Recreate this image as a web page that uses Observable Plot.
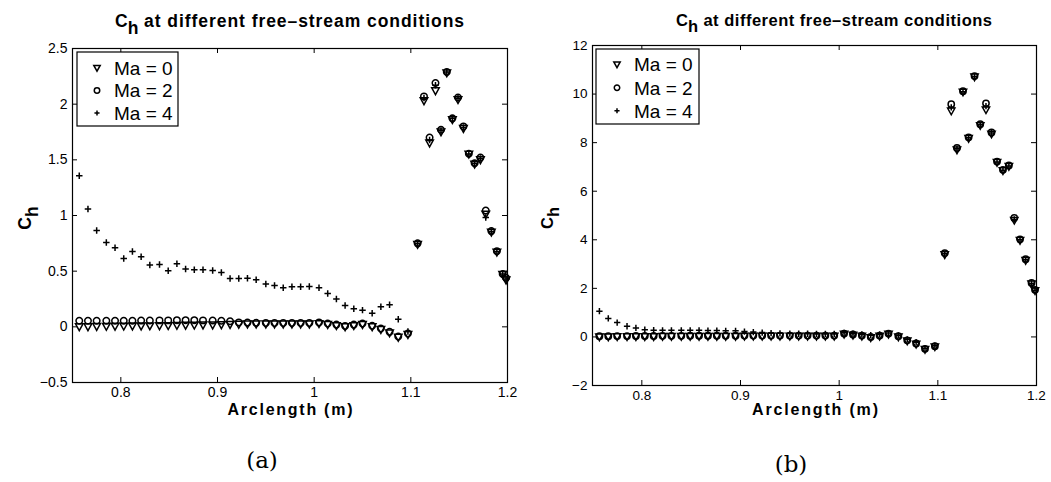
<!DOCTYPE html>
<html><head><meta charset="utf-8">
<script src="https://cdn.jsdelivr.net/npm/d3@7"></script>
<script src="https://cdn.jsdelivr.net/npm/@observablehq/plot@0.6"></script>
<style>
body{margin:0;background:#fff;}
#root{position:relative;width:1051px;height:482px;overflow:hidden;background:#fff;}
.panel{position:absolute;top:0;}
#overlay{position:absolute;left:0;top:0;pointer-events:none;}
</style></head><body><div id="root"></div>
<script>
// ---------------- data ----------------
const seriesLabels = ["Ma = 0", "Ma = 2", "Ma = 4"];
const arclength = [
  0.757, 0.766, 0.775, 0.785, 0.794, 0.803, 0.812, 0.821, 0.830, 0.840,
  0.849, 0.858, 0.867, 0.876, 0.885, 0.895, 0.904, 0.913, 0.922, 0.931,
  0.940, 0.950, 0.959, 0.968, 0.977, 0.986, 0.995, 1.005, 1.014, 1.023,
  1.032, 1.041, 1.050, 1.060, 1.069, 1.078, 1.087, 1.097,
  1.107, 1.1136, 1.1194, 1.1255, 1.1312, 1.1372, 1.143, 1.1488, 1.1544,
  1.160, 1.166, 1.172, 1.1775, 1.1833, 1.189, 1.195, 1.1985
];
// panel (a)
const chA_ma0 = [
  0.0, 0.0, 0.002, 0.003, 0.004, 0.005, 0.006, 0.007, 0.008, 0.009,
  0.01, 0.012, 0.013, 0.014, 0.015, 0.016, 0.018, 0.02, 0.022, 0.024,
  0.024, 0.024, 0.024, 0.024, 0.024, 0.024, 0.024, 0.028, 0.02, 0.01,
  0.0, 0.01, 0.02, 0.0, -0.025, -0.055, -0.095, -0.07,
  0.74, 2.03, 1.65, 2.12, 1.75, 2.28, 1.86, 2.04, 1.78, 1.55, 1.46, 1.50, 1.01, 0.85, 0.67, 0.47, 0.42
];
const chA_ma2 = [
  0.055, 0.055, 0.055, 0.055, 0.055, 0.055, 0.055, 0.056, 0.057, 0.058,
  0.058, 0.06, 0.06, 0.06, 0.058, 0.057, 0.055, 0.05, 0.04, 0.038,
  0.036, 0.035, 0.035, 0.035, 0.035, 0.035, 0.035, 0.04, 0.03, 0.02,
  0.008, 0.02, 0.03, 0.01, -0.015, -0.045, -0.087, -0.06,
  0.75, 2.07, 1.70, 2.19, 1.77, 2.29, 1.873, 2.06, 1.80, 1.555, 1.47, 1.52, 1.045, 0.86, 0.68, 0.475, 0.44
];
const chA_ma4 = [
  1.358, 1.058, 0.866, 0.758, 0.71, 0.614, 0.677, 0.63, 0.555, 0.56,
  0.504, 0.567, 0.519, 0.512, 0.512, 0.506, 0.488, 0.434, 0.434, 0.437,
  0.423, 0.384, 0.371, 0.351, 0.36, 0.36, 0.362, 0.351, 0.3, 0.249,
  0.192, 0.162, 0.15, 0.123, 0.18, 0.198, 0.069, -0.042,
  0.749, 2.056, 1.679, 2.17, 1.763, 2.29, 1.873, 2.053, 1.79, 1.553, 1.469, 1.513, 0.983, 0.857, 0.677, 0.474, 0.43
];
// panel (b)
const chB_ma0 = [
  0.0, 0.0, 0.005, 0.005, 0.01, 0.01, 0.01, 0.015, 0.015, 0.015,
  0.02, 0.02, 0.02, 0.02, 0.02, 0.02, 0.025, 0.025, 0.025, 0.025,
  0.025, 0.025, 0.025, 0.025, 0.025, 0.025, 0.025, 0.11, 0.07, 0.025,
  -0.03, 0.025, 0.11, 0.0, -0.17, -0.3, -0.52, -0.41,
  3.38, 9.3, 7.7, 10.08, 8.17, 10.7, 8.7, 9.35, 8.35, 7.18, 6.84, 7.02, 4.8, 3.97, 3.15, 2.18, 1.9
];
const chB_ma2 = [
  0.03, 0.03, 0.035, 0.035, 0.04, 0.04, 0.04, 0.045, 0.045, 0.045,
  0.05, 0.05, 0.05, 0.05, 0.05, 0.05, 0.055, 0.055, 0.055, 0.055,
  0.055, 0.055, 0.055, 0.055, 0.055, 0.055, 0.055, 0.14, 0.1, 0.055,
  0.0, 0.055, 0.14, 0.03, -0.14, -0.27, -0.49, -0.38,
  3.45, 9.58, 7.78, 10.12, 8.22, 10.74, 8.76, 9.62, 8.42, 7.22, 6.88, 7.06, 4.9, 4.02, 3.2, 2.22, 1.94
];
const chB_ma4 = [
  1.06, 0.76, 0.59, 0.44, 0.37, 0.30, 0.28, 0.27, 0.27, 0.27,
  0.27, 0.27, 0.26, 0.26, 0.25, 0.25, 0.22, 0.2, 0.18, 0.16,
  0.15, 0.14, 0.13, 0.13, 0.12, 0.12, 0.12, 0.17, 0.13, 0.1,
  0.07, 0.1, 0.16, 0.06, -0.1, -0.22, -0.47, -0.36,
  3.43, 9.45, 7.75, 10.1, 8.2, 10.72, 8.74, 9.5, 8.4, 7.2, 6.86, 7.04, 4.84, 4.0, 3.18, 2.2, 1.92
];
const xTicks = [0.8, 0.9, 1, 1.1, 1.2];
const yTicksA = [-0.5, 0, 0.5, 1, 1.5, 2, 2.5];
const yTicksB = [-2, 0, 2, 4, 6, 8, 10, 12];
const titleText = "at different free\u2013stream conditions";
const xLabelText = "Arclength (m)";

// ---------------- symbols ----------------
const triDown = {draw(ctx, size){ const r = Math.sqrt(size/Math.PI); ctx.moveTo(-r*1.05, -r*0.85); ctx.lineTo(r*1.05, -r*0.85); ctx.lineTo(0, r*1.05); ctx.closePath(); }};
const ring = {draw(ctx, size){ const r = Math.sqrt(size/Math.PI)*0.9; ctx.moveTo(r, 0); ctx.arc(0, 0, r, 0, 2*Math.PI); }};
const plusS = {draw(ctx, size){ const r = Math.sqrt(size/Math.PI)*0.9; ctx.moveTo(-r, 0); ctx.lineTo(r, 0); ctx.moveTo(0, -r); ctx.lineTo(0, r); }};

const fmt = d => d < 0 ? "\u2212" + Math.abs(d) : String(d);
const FONT = "'Liberation Sans', Arial, Helvetica, sans-serif";

function makePanel(cfg){
  const {series, yDomain, yTicks, width, height, mL, mR, mT, mB, fs, r} = cfg;
  const fw = width - mL - mR, fh = height - mT - mB;
  const syms = [triDown, ring, plusS];
  const dotMarks = series.map((vals, k) => Plot.dot(
    arclength.map((x, i) => ({x, y: vals[i]})),
    {x: "x", y: "y", symbol: syms[k], r, fill: "none", stroke: "black", strokeWidth: 1.5}
  ));
  return Plot.plot({
    width, height, marginLeft: mL, marginRight: mR, marginTop: mT, marginBottom: mB,
    style: {fontFamily: FONT, fontSize: fs + "px", color: "black", background: "transparent", overflow: "visible"},
    x: {domain: [0.75, 1.2]},
    y: {domain: yDomain},
    marks: [
      Plot.tickX(xTicks, {x: d => d, insetTop: fh - 5, stroke: "black"}),
      Plot.tickX(xTicks, {x: d => d, insetBottom: fh - 5, stroke: "black"}),
      Plot.tickY(yTicks, {y: d => d, insetLeft: fw - 5, stroke: "black"}),
      Plot.tickY(yTicks, {y: d => d, insetRight: fw - 5, stroke: "black"}),
      Plot.axisX(xTicks, {tickSize: 0, tickPadding: 5, label: null, tickFormat: fmt, fontSize: fs}),
      Plot.axisY(yTicks, {tickSize: 0, tickPadding: 5, label: null, tickFormat: fmt, fontSize: fs}),
      ...dotMarks,
      Plot.frame({stroke: "black", strokeWidth: 1.2})
    ]
  });
}

const root = document.getElementById("root");
const pa = makePanel({series: [chA_ma0, chA_ma2, chA_ma4], yDomain: [-0.5, 2.5], yTicks: yTicksA,
  width: 525, height: 420, mL: 72, mR: 18, mT: 48, mB: 38, fs: 14, r: 3.6});
pa.classList.add("panel"); pa.style.left = "0px";
root.appendChild(pa);
const pb = makePanel({series: [chB_ma0, chB_ma2, chB_ma4], yDomain: [-2, 12], yTicks: yTicksB,
  width: 511, height: 420, mL: 52, mR: 15, mT: 45, mB: 35, fs: 13.5, r: 3.5});
pb.classList.add("panel"); pb.style.left = "540px";
root.appendChild(pb);

// ---------------- annotations (titles, labels, legends, captions) ----------------
const NS = "http://www.w3.org/2000/svg";
const ov = document.createElementNS(NS, "svg");
ov.setAttribute("id", "overlay"); ov.setAttribute("width", 1051); ov.setAttribute("height", 482);
root.appendChild(ov);
function el(tag, attrs, text){
  const e = document.createElementNS(NS, tag);
  for (const k in attrs) e.setAttribute(k, attrs[k]);
  if (text != null) e.textContent = text;
  ov.appendChild(e); return e;
}
function title(x0, x1, base, fs){
  el("text", {x: x0, y: base, "font-family": FONT, "font-weight": "bold", "font-size": fs}, "C");
  const cw = fs * 0.722;
  el("text", {x: x0 + cw, y: base + fs*0.38, "font-family": FONT, "font-weight": "bold", "font-size": fs}, "h");
  const start = x0 + cw + fs*0.611 + fs*0.33;
  el("text", {x: start, y: base, "font-family": FONT, "font-weight": "bold", "font-size": fs,
    textLength: x1 - start, lengthAdjust: "spacing"}, titleText);
}
title(115, 464, 27, 17.5);
title(676, 992, 26, 16.5);

function xlabel(cx, base, w, fs){
  el("text", {x: cx - w/2, y: base, "font-family": FONT, "font-weight": "bold", "font-size": fs,
    textLength: w, lengthAdjust: "spacing"}, xLabelText);
}
xlabel(290, 415, 125, 16);
xlabel(815, 415, 126, 16);

function ylabel(cx, cy, fs){
  const g = el("text", {transform: `translate(${cx},${cy}) rotate(-90)`, "font-family": FONT,
    "font-weight": "bold", "font-size": fs, "text-anchor": "middle"});
  const t1 = document.createElementNS(NS, "tspan"); t1.textContent = "C"; g.appendChild(t1);
  const t2 = document.createElementNS(NS, "tspan"); t2.textContent = "h"; t2.setAttribute("dy", fs*0.38); g.appendChild(t2);
}
ylabel(31, 218, 17.5);
ylabel(553, 218, 16.5);

function legend(x, y, w, h, mx, tx, rows, fs){
  el("rect", {x, y, width: w, height: h, fill: "white", stroke: "black", "stroke-width": 1.2});
  const s = 3.2;
  rows.forEach((ry, k) => {
    let d;
    if (k === 0) d = `M${mx-s},${ry-s*0.8}L${mx+s},${ry-s*0.8}L${mx},${ry+s}Z`;
    else if (k === 1) d = `M${mx+s*0.85},${ry}A${s*0.85},${s*0.85} 0 1,1 ${mx-s*0.85},${ry}A${s*0.85},${s*0.85} 0 1,1 ${mx+s*0.85},${ry}`;
    else d = `M${mx-s*0.8},${ry}L${mx+s*0.8},${ry}M${mx},${ry-s*0.8}L${mx},${ry+s*0.8}`;
    el("path", {d, fill: "none", stroke: "black", "stroke-width": 1.5});
    el("text", {x: tx, y: ry + fs*0.36, "font-family": FONT, "font-size": fs}, seriesLabels[k]);
  });
}
legend(77, 52, 101, 74, 97, 114, [68, 90.5, 113], 19);
legend(596, 49, 103, 75, 617, 634, [64.5, 87.7, 110.7], 19);

el("text", {x: 262, y: 468, "text-anchor": "middle", "font-family": "'DejaVu Serif', 'Liberation Serif', serif", "font-size": 23}, "(a)");
el("text", {x: 791, y: 472, "text-anchor": "middle", "font-family": "'DejaVu Serif', 'Liberation Serif', serif", "font-size": 23}, "(b)");
</script></body></html>
